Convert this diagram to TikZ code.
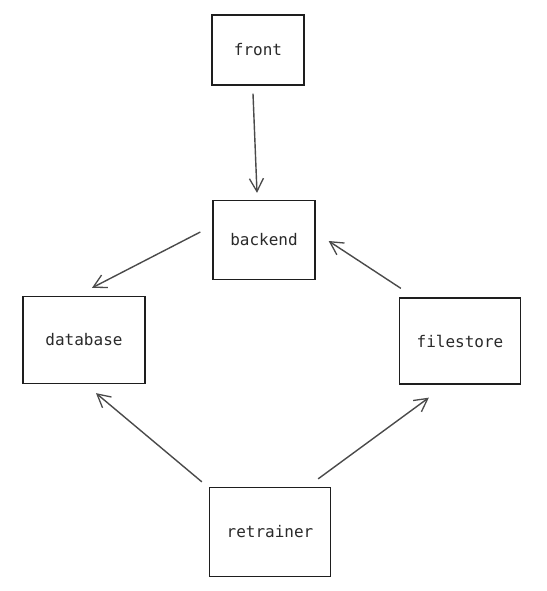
\documentclass[tikz,border=0pt]{standalone}
\usepackage{fontspec}
\newfontfamily\boxfont{DejaVu Sans Mono}
\usetikzlibrary{arrows.meta,calc}
\definecolor{inkbox}{HTML}{1E1E1E}
\definecolor{inktext}{HTML}{2A2A2A}
\definecolor{inkarrow}{HTML}{4A4A4A}
\tikzset{
  compbox/.style={draw=inkbox, line width=1.3pt, fill=white, inner sep=0pt,
    font=\boxfont\fontsize{16}{19}\selectfont, text=inktext},
  flow/.style={draw=inkarrow, line width=1.4pt,
    -{Straight Barb[length=13pt,width=14pt,line width=1.3pt]}}
}
\begin{document}
\begin{tikzpicture}[x=1pt,y=-1pt]
\useasboundingbox[fill=white] (0,0) rectangle (546,591);
\node[compbox, minimum width=92pt, minimum height=70pt] (front) at (258,50) {front};
\node[compbox, minimum width=102pt, minimum height=79pt] (backend) at (264,240) {backend};
\node[compbox, minimum width=122pt, minimum height=87pt] (database) at (84,340) {database};
\node[compbox, minimum width=121pt, minimum height=86pt] (filestore) at (460,341) {filestore};
\node[compbox, minimum width=121pt, minimum height=89pt] (retrainer) at (270,532) {retrainer};

\draw[flow] ($(front.south)+(-5,8)$) -- ($(backend.north)+(-7,-7)$);
\draw[flow] ($(backend.west)+(-12,-8)$) -- ($(database.north)+(8,-8)$);
\draw[flow] ($(filestore.north west)+(2,-9)$) -- ($(backend.east)+(13,1)$);
\draw[flow] ($(retrainer.north west)+(-7,-5)$) -- ($(database.south)+(12,9)$);
\draw[flow] ($(retrainer.north east)+(-13,-8)$) -- ($(filestore.south west)+(30,13)$);
\end{tikzpicture}
\end{document}
